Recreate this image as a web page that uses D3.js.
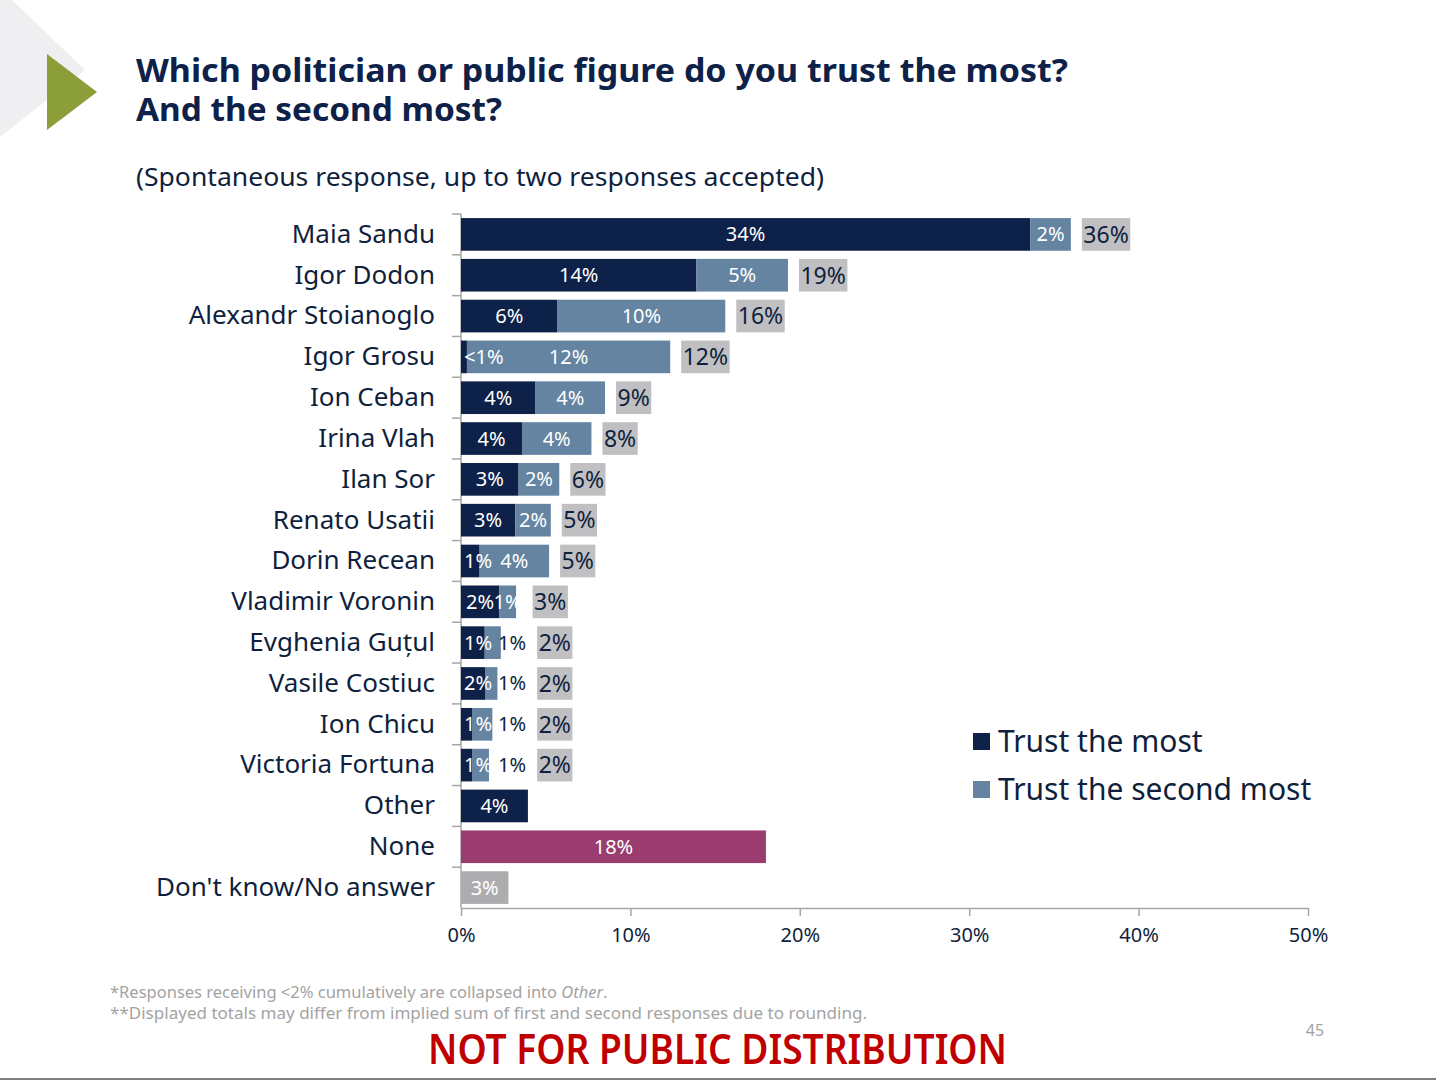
<!DOCTYPE html>
<html>
<head>
<meta charset="utf-8">
<script src="https://cdn.jsdelivr.net/npm/d3@7"></script>
<style>
body { margin: 0; background: #fff; }
svg { display: block; }
</style>
</head>
<body>
<script>
// Data
var categories = ["Maia Sandu", "Igor Dodon", "Alexandr Stoianoglo", "Igor Grosu", "Ion Ceban",
	"Irina Vlah", "Ilan Sor", "Renato Usatii", "Dorin Recean", "Vladimir Voronin", "Evghenia Guțul",
	"Vasile Costiuc", "Ion Chicu", "Victoria Fortuna", "Other", "None", "Don't know/No answer"];
var trustMost   = [33.6, 13.9, 5.7, 0.35, 4.4, 3.6, 3.4, 3.2, 1.1, 2.25, 1.4, 1.45, 0.65, 0.65, 3.95, 18.0, 2.8];
var trustSecond = [2.4, 5.4, 9.9, 12.0, 4.1, 4.1, 2.4, 2.1, 4.1, 1.0, 0.95, 0.7, 1.2, 1.0, 0, 0, 0];
var mostLabels   = ["34%", "14%", "6%", "<1%", "4%", "4%", "3%", "3%", "1%", "2%", "1%", "2%", "1%", "1%", "4%", "18%", "3%"];
var secondLabels = ["2%", "5%", "10%", "12%", "4%", "4%", "2%", "2%", "4%", "1%", "1%", "1%", "1%", "1%", "", "", ""];
var totalLabels  = ["36%", "19%", "16%", "12%", "9%", "8%", "6%", "5%", "5%", "3%", "2%", "2%", "2%", "2%", "", "", ""];
var xTicks = [0, 10, 20, 30, 40, 50];
var seriesNames = ["Trust the most", "Trust the second most"];

// Colours
var navy = "#0e2148",
	steel = "#6484a2",
	magenta = "#9a3c6d",
	dkGrey = "#adadb0",
	totalGrey = "#c0c0c2",
	textDark = "#0f1f3d",
	axisGrey = "#a6a6a6",
	font = "'Noto Sans', sans-serif";

var W = 1436, H = 1081;

var svg = d3.select("body")
	.append("svg")
	.attr("width", W)
	.attr("height", H)
	.style("font-family", font);

// Slide decoration
svg.append("polygon")
	.attr("points", "0,0 12,0 85,70 0,137")
	.attr("fill", "#efeff1");
svg.append("polygon")
	.attr("points", "47,54 97,92 47,130")
	.attr("fill", "#8b9e37");

// Titles
svg.append("text")
	.text("Which politician or public figure do you trust the most?")
	.attr("x", 136).attr("y", 82)
	.attr("font-size", "33px").attr("font-weight", "bold")
	.attr("fill", navy)
	.attr("textLength", 932).attr("lengthAdjust", "spacingAndGlyphs");
svg.append("text")
	.text("And the second most?")
	.attr("x", 136).attr("y", 121)
	.attr("font-size", "33px").attr("font-weight", "bold")
	.attr("fill", navy)
	.attr("textLength", 366).attr("lengthAdjust", "spacingAndGlyphs");
svg.append("text")
	.text("(Spontaneous response, up to two responses accepted)")
	.attr("x", 136).attr("y", 186)
	.attr("font-size", "26px")
	.attr("fill", textDark)
	.attr("textLength", 688).attr("lengthAdjust", "spacingAndGlyphs");

// Scales
var x = d3.scaleLinear().domain([0, 50]).range([461, 1308]);
var y = d3.scaleBand().domain(categories).range([214, 908]).paddingInner(0.2).paddingOuter(0.1);

// Bottom axis
var xAxis = svg.append("g")
	.attr("transform", "translate(0,908)")
	.call(d3.axisBottom(x).tickValues(xTicks).tickFormat(function(d) { return d + "%"; })
		.tickSize(8).tickSizeOuter(0).tickPadding(12));
xAxis.select(".domain").attr("stroke", axisGrey).attr("stroke-width", 1.5);
xAxis.selectAll(".tick line").attr("stroke", axisGrey).attr("stroke-width", 1.5);
xAxis.selectAll(".tick text")
	.attr("font-family", font).attr("font-size", "20px").attr("fill", textDark);

// Left axis: labels at band centres, ticks at band boundaries
var yAxis = svg.append("g")
	.attr("transform", "translate(461,0)")
	.call(d3.axisLeft(y).tickSize(0).tickPadding(26));
yAxis.select(".domain").remove();
yAxis.selectAll(".tick text")
	.attr("font-family", font).attr("font-size", "26px").attr("fill", textDark);

svg.append("line")
	.attr("x1", x(0)).attr("x2", x(0))
	.attr("y1", y.range()[0]).attr("y2", y.range()[1])
	.attr("stroke", axisGrey).attr("stroke-width", 1.5);
svg.selectAll(".ytick")
	.data(d3.range(categories.length))
	.enter()
	.append("line")
	.attr("class", "ytick")
	.attr("x1", x(0) - 9).attr("x2", x(0))
	.attr("y1", function(i) { return y.range()[0] + i * y.step(); })
	.attr("y2", function(i) { return y.range()[0] + i * y.step(); })
	.attr("stroke", axisGrey).attr("stroke-width", 1.5);

function firstColor(name) {
	if (name === "None") return magenta;
	if (name === "Don't know/No answer") return dkGrey;
	return navy;
}

// Bars, segment labels and total boxes
categories.forEach(function(name, i) {
	var top = y(name),
		bh = y.bandwidth(),
		cy = top + bh / 2,
		x0 = x(0),
		x1 = x(trustMost[i]),
		x2 = x(trustMost[i] + trustSecond[i]);

	svg.append("rect")
		.attr("x", x0).attr("y", top)
		.attr("width", x1 - x0).attr("height", bh)
		.attr("fill", firstColor(name));
	if (trustSecond[i] > 0) {
		svg.append("rect")
			.attr("x", x1).attr("y", top)
			.attr("width", x2 - x1).attr("height", bh)
			.attr("fill", steel);
	}

	// first segment label, kept from hanging off the left edge
	var t1 = svg.append("text")
		.text(mostLabels[i])
		.attr("y", cy).attr("dy", "0.35em")
		.attr("font-size", "20px").attr("fill", "#fff");
	var w1 = t1.node().getComputedTextLength();
	var l1 = Math.max((x0 + x1) / 2 - w1 / 2, x0 + 3);
	t1.attr("x", l1);
	var end = Math.max(x2, l1 + w1);

	// second segment label, pushed outside when it would collide
	if (secondLabels[i]) {
		var t2 = svg.append("text")
			.text(secondLabels[i])
			.attr("y", cy).attr("dy", "0.35em")
			.attr("font-size", "20px").attr("fill", "#fff");
		var w2 = t2.node().getComputedTextLength();
		var l2 = (x1 + x2) / 2 - w2 / 2;
		if (l2 < l1 + w1 - 4) {
			l2 = Math.max(x2 - 3, l1 + w1 + 6);
			t2.attr("fill", textDark);
		}
		t2.attr("x", l2);
		end = Math.max(end, l2 + w2);
	}

	// grey total box
	if (totalLabels[i]) {
		var bx = end + 11;
		var box = svg.append("rect")
			.attr("y", top).attr("height", bh)
			.attr("fill", totalGrey);
		var t3 = svg.append("text")
			.text(totalLabels[i])
			.attr("y", cy).attr("dy", "0.36em")
			.attr("font-size", "23px").attr("fill", textDark);
		var w3 = t3.node().getComputedTextLength();
		box.attr("x", bx).attr("width", w3 + 3);
		t3.attr("x", bx + 1.5);
	}
});

// Legend
var legend = svg.selectAll(".legend")
	.data(seriesNames)
	.enter()
	.append("g")
	.attr("class", "legend")
	.attr("transform", function(d, i) { return "translate(973," + (733 + i * 48) + ")"; });
legend.append("rect")
	.attr("width", 17).attr("height", 17)
	.attr("fill", function(d, i) { return i === 0 ? navy : steel; });
legend.append("text")
	.text(function(d) { return d; })
	.attr("x", 25).attr("y", 19)
	.attr("font-size", "30px").attr("fill", textDark);

// Footnotes
var note1 = svg.append("text")
	.attr("x", 110).attr("y", 998)
	.attr("font-size", "16.5px").attr("fill", "#a3a3a3");
note1.append("tspan").text("*Responses receiving <2% cumulatively are collapsed into ");
note1.append("tspan").text("Other").attr("font-style", "italic");
note1.append("tspan").text(".");
svg.append("text")
	.text("**Displayed totals may differ from implied sum of first and second responses due to rounding.")
	.attr("x", 110).attr("y", 1019)
	.attr("font-size", "16.5px").attr("fill", "#a3a3a3")
	.attr("textLength", 757).attr("lengthAdjust", "spacingAndGlyphs");

svg.append("text")
	.text("NOT FOR PUBLIC DISTRIBUTION")
	.attr("x", 428).attr("y", 1064)
	.attr("font-size", "41px").attr("font-weight", "600")
	.attr("fill", "#c00000")
	.attr("textLength", 579).attr("lengthAdjust", "spacingAndGlyphs");

svg.append("text")
	.text("45")
	.attr("x", 1315).attr("y", 1036)
	.attr("text-anchor", "middle")
	.attr("font-size", "16px").attr("fill", "#a3a3a3");

// bottom rule of the slide
svg.append("line")
	.attr("x1", 0).attr("x2", W)
	.attr("y1", 1079).attr("y2", 1079)
	.attr("stroke", "#7f7f7f").attr("stroke-width", 2);
</script>
</body>
</html>
